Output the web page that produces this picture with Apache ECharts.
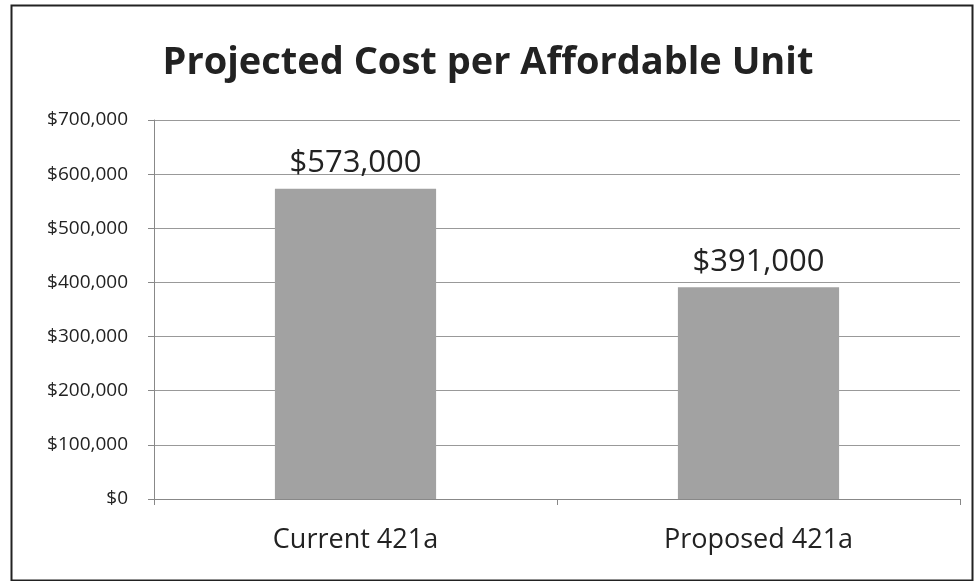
<!DOCTYPE html>
<html><head><meta charset="utf-8">
<script src="https://cdn.jsdelivr.net/npm/echarts@6/dist/echarts.min.js"></script>
<style>html,body{margin:0;padding:0;background:#fff}#c{width:976px;height:581px}</style>
</head><body><div id="c"></div>
<script>
const categories = ['Current 421a', 'Proposed 421a'];
const costs = [573000, 391000];
const yTicks = [0, 100000, 200000, 300000, 400000, 500000, 600000, 700000];

const fmt = v => '$' + v.toLocaleString('en-US');
const FONT = 'Open Sans';
const chart = echarts.init(document.getElementById('c'));
chart.setOption({
  animation: false,
  backgroundColor: '#fff',
  title: {
    text: 'Projected Cost per Affordable Unit',
    left: 'center', top: 39,
    textStyle: {fontFamily: FONT, fontWeight: 'bold', fontSize: 38, color: '#222'}
  },
  graphic: [{
    type: 'rect', left: 9, top: 3, shape: {width: 961, height: 575},
    style: {fill: 'none', stroke: '#222', lineWidth: 2}
  }],
  grid: {left: 154, right: 16, top: 120, bottom: 82},
  xAxis: {
    type: 'category', data: categories,
    axisLine: {lineStyle: {color: '#888'}},
    axisTick: {show: true, length: 6, lineStyle: {color: '#888'}},
    axisLabel: {fontFamily: FONT, fontSize: 27, color: '#222', margin: 28}
  },
  yAxis: {
    type: 'value', min: yTicks[0], max: yTicks[yTicks.length - 1], interval: 100000,
    axisLine: {show: true, lineStyle: {color: '#888'}},
    axisTick: {show: true, length: 6, lineStyle: {color: '#888'}},
    splitLine: {lineStyle: {color: '#999', width: 1}},
    axisLabel: {fontFamily: FONT, fontSize: 19, color: '#222', margin: 26, formatter: fmt}
  },
  series: [{
    type: 'bar', data: costs, barWidth: '40%',
    itemStyle: {color: '#a2a2a2'},
    label: {show: true, position: 'top', distance: 10, fontFamily: FONT, fontSize: 31, color: '#222', formatter: p => fmt(p.value)}
  }]
});
</script></body></html>
